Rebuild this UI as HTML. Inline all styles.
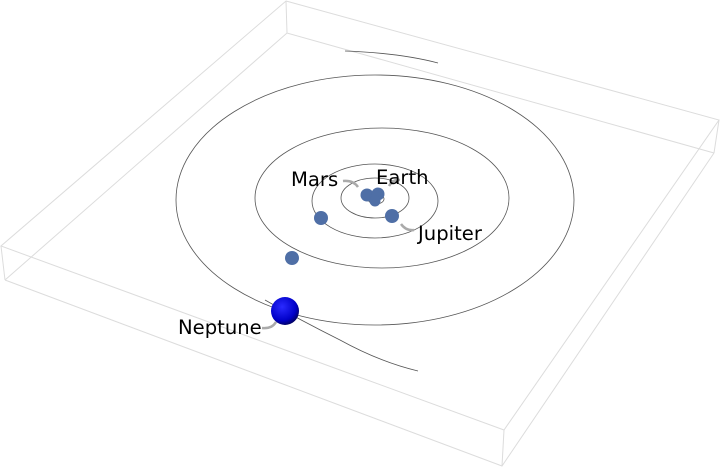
<!DOCTYPE html>
<html><head><style>body{margin:0;background:#fff}svg{display:block}</style></head><body>
<svg width="720" height="468" viewBox="0 0 720 468" xmlns="http://www.w3.org/2000/svg">
<defs><radialGradient id="g" cx="0.4" cy="0.35" r="0.7"><stop offset="0" stop-color="#2a2aff"/><stop offset="0.7" stop-color="#0000c8"/><stop offset="1" stop-color="#000050"/></radialGradient></defs>
<g stroke="#dcdcdc" stroke-width="1" fill="none">
<polygon points="286,1 719,120 504,430 1,246"/>
<polyline points="5,280 502,466 714,153"/>
<polyline points="5,280 287,33 714,153"/>
<line x1="286" y1="1" x2="287" y2="33"/><line x1="1" y1="246" x2="5" y2="280"/>
<line x1="719" y1="120" x2="714" y2="153"/><line x1="504" y1="430" x2="502" y2="466"/>
</g>
<g stroke="#555" stroke-width="0.8" fill="none">
<ellipse cx="375" cy="200" rx="199" ry="125"/>
<ellipse cx="382" cy="198" rx="127" ry="70"/>
<ellipse cx="375" cy="201" rx="63" ry="37"/>
<ellipse cx="375" cy="198" rx="34" ry="20"/>
<ellipse cx="376" cy="199" rx="8" ry="5"/>
<ellipse cx="376" cy="199" rx="4" ry="3"/>
<path d="M345,51 Q400,53 438,63"/>
<path d="M265,300 Q300,320 340,340 Q380,362 418,371"/>
</g>
<g stroke="#aaa" stroke-width="2.5" fill="none">
<path d="M343,181 Q353,180 358,187"/>
<path d="M389,186 Q393,179 400,180"/>
<path d="M401,224 Q406,231 414,230"/>
<path d="M262,328 Q272,329 276,322"/>
</g>
<g fill="#4f6fa6">
<circle cx="367" cy="195" r="6.5"/><circle cx="378" cy="194" r="6.5"/><circle cx="375" cy="201" r="5.5"/>
<circle cx="321" cy="218" r="7"/><circle cx="392" cy="216" r="7"/><circle cx="292" cy="258" r="7"/>
</g>
<circle cx="285" cy="311" r="14" fill="url(#g)"/>
<g font-family="DejaVu Sans, sans-serif" font-size="19.6" fill="#000">
<text x="291" y="186">Mars</text>
<text x="376" y="184">Earth</text>
<text x="418" y="240">Jupiter</text>
<text x="178" y="334">Neptune</text>
</g>
</svg>
</body></html>
